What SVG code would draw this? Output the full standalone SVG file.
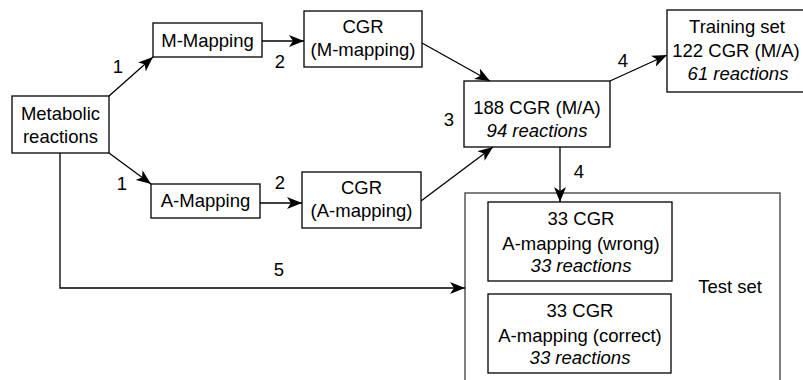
<svg xmlns="http://www.w3.org/2000/svg" width="803" height="380" viewBox="0 0 803 380">
<style>
.box{fill:#fff;stroke:#000;stroke-width:1.3}
.outer{fill:#fff;stroke:#555;stroke-width:1.5}
text{font-family:"Liberation Sans",Arial,sans-serif;font-size:18.5px;fill:#000;text-anchor:middle}
.it{font-style:italic}
.edge{fill:none;stroke:#000;stroke-width:1.3;marker-end:url(#ah)}
</style>
<defs>
<marker id="ah" markerUnits="userSpaceOnUse" markerWidth="16" markerHeight="12" refX="15" refY="6" orient="auto">
<path d="M0,0 L15,6 L0,12 L4,6 z" fill="#000"/>
</marker>
</defs>
<rect width="803" height="380" fill="#fff"/>
<g id="test-set">
<rect class="outer" x="465" y="193" width="315" height="195"/>
<text x="730" y="293">Test set</text>
</g>
<g id="connectors">
<line class="edge" x1="109" y1="96" x2="153" y2="57"/>
<line class="edge" x1="109" y1="153" x2="151" y2="184"/>
<line class="edge" x1="262" y1="41" x2="304" y2="41"/>
<line class="edge" x1="260" y1="203" x2="302" y2="203"/>
<line class="edge" x1="422" y1="43" x2="490" y2="81"/>
<line class="edge" x1="421" y1="201" x2="493" y2="147"/>
<line class="edge" x1="610" y1="81" x2="667" y2="55"/>
<line class="edge" x1="560" y1="147" x2="560" y2="202"/>
<path class="edge" d="M60,153 V288 H465"/>
<text x="118" y="73">1</text>
<text x="280" y="68">2</text>
<text x="122" y="190">1</text>
<text x="280" y="189">2</text>
<text x="449" y="126">3</text>
<text x="623" y="67">4</text>
<text x="579" y="178">4</text>
<text x="279" y="276">5</text>
</g>
<g id="metabolic">
<rect class="box" x="12" y="96" width="97" height="57"/>
<text x="60.5" y="120">Metabolic</text>
<text x="60.5" y="143">reactions</text>
</g>
<g id="m-mapping">
<rect class="box" x="153" y="23" width="109" height="34"/>
<text x="207.5" y="47">M-Mapping</text>
</g>
<g id="a-mapping">
<rect class="box" x="151" y="184" width="109" height="34"/>
<text x="205.5" y="207">A-Mapping</text>
</g>
<g id="cgr-m">
<rect class="box" x="304" y="11" width="118" height="56"/>
<text x="363" y="33">CGR</text>
<text x="363" y="56">(M-mapping)</text>
</g>
<g id="cgr-a">
<rect class="box" x="302" y="172" width="119" height="56"/>
<text x="361.5" y="194">CGR</text>
<text x="361.5" y="217">(A-mapping)</text>
</g>
<g id="cgr-188">
<rect class="box" x="464" y="81" width="146" height="66"/>
<text x="537" y="114">188 CGR (M/A)</text>
<text class="it" x="537" y="137">94 reactions</text>
</g>
<g id="training">
<rect class="box" x="667" y="10" width="140" height="82"/>
<text x="737" y="33">Training set</text>
<text x="736" y="57">122 CGR (M/A)</text>
<text class="it" x="738" y="80">61 reactions</text>
</g>
<g id="wrong">
<rect class="box" x="488" y="202" width="184" height="79"/>
<text x="581" y="225">33 CGR</text>
<text x="581" y="250">A-mapping (wrong)</text>
<text class="it" x="581" y="272">33 reactions</text>
</g>
<g id="correct">
<rect class="box" x="488" y="294" width="183" height="79"/>
<text x="580" y="317">33 CGR</text>
<text x="580" y="342">A-mapping (correct)</text>
<text class="it" x="580" y="364">33 reactions</text>
</g>
</svg>
